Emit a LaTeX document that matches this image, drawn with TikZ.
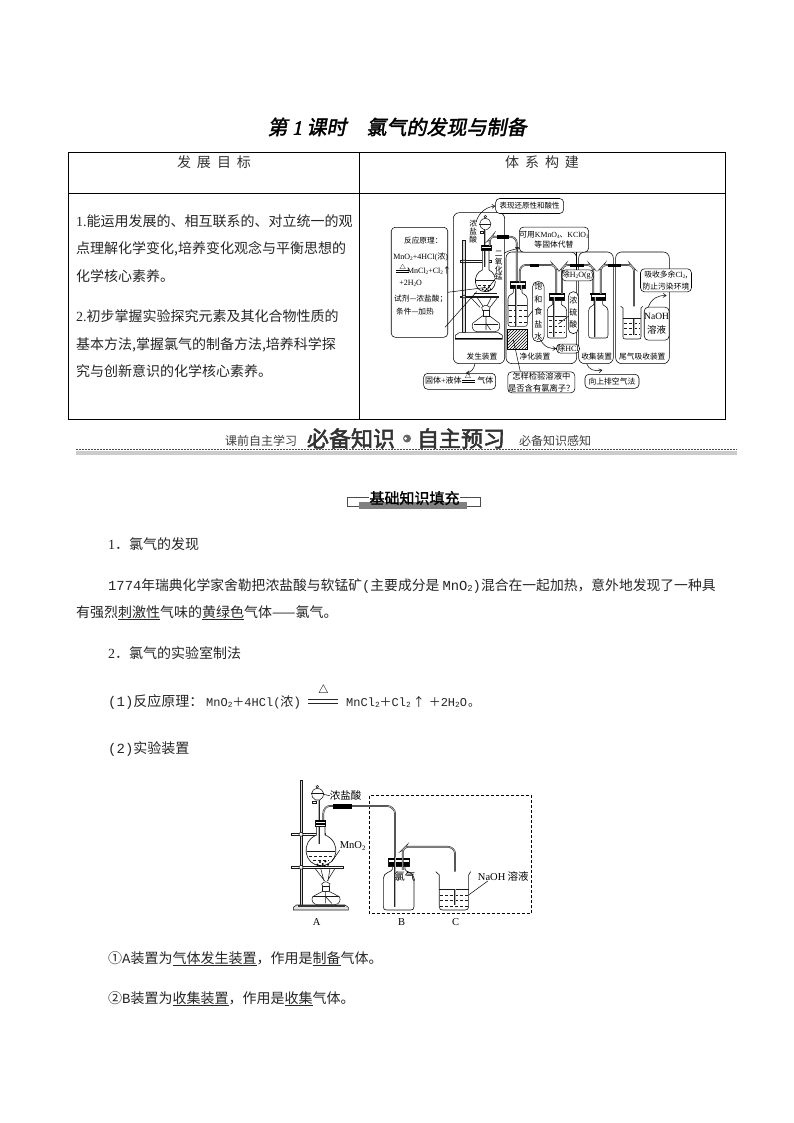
\documentclass[tikz,border=0pt]{standalone}
\usepackage{fontspec}
\setmainfont{Noto Sans CJK SC}
\newfontfamily\latn{Liberation Serif}
\newfontfamily\mono{Liberation Mono}
\newfontfamily\titlefont[FakeSlant=0.2,FakeBold=2]{Noto Sans CJK SC}
\newfontfamily\titlelat[FakeSlant=0.2,FakeBold=2]{Liberation Serif}
\newfontfamily\heavy[FakeBold=2.5]{Noto Sans CJK SC}
\newfontfamily\semibold[FakeBold=1.5]{Noto Sans CJK SC}
\usetikzlibrary{arrows.meta,patterns}
\newcommand\lt[1]{{\latn #1}}
\newcommand\mn[1]{{\mono #1}}
\newcommand\sbs[1]{\raisebox{-.25ex}{\scalebox{.65}{#1}}}
\newcommand\fs[1]{\fontsize{#1}{#1}\selectfont}
\tikzset{
 ink/.style={draw=black!90,line width=.55pt},
 body/.style={anchor=west,inner sep=0pt,text height=.85em,text depth=.15em,text=black!85,font=\fs{14},yshift=-1.5pt},
 small/.style={inner sep=0pt,align=center,text=black,font=\fs{7.7}},
 callout/.style={draw=black,line width=.55pt,rounded corners=4pt,fill=white,inner sep=0pt,align=center,font=\fs{7.8}},
 zone/.style={draw=black,line width=.55pt,rounded corners=6pt},
 pipe/.style={draw=black!85,double=black!30,double distance=.8pt,line width=.45pt,rounded corners=2.5pt},
 lead/.style={draw=black,line width=.5pt},
 barb/.style={draw=black,line width=.5pt,-{Straight Barb[length=3pt,width=4pt]}},
 jar/.pic={
  \draw[ink,fill=white,line width=.6pt] (-13,18) -- (-13,32) .. controls (-13,38) and (-29,38) .. (-29,52) -- (-29,126) .. controls (-29,132) and (-27,134) .. (-22,134) -- (22,134) .. controls (27,134) and (29,132) .. (29,126) -- (29,52) .. controls (29,38) and (13,38) .. (13,32) -- (13,18);
  \draw[ink,fill=white] (-22,0) rectangle (22,20);
  \fill[black] (-24,0) rectangle (24,4);
  \fill[black] (-22,11) rectangle (22,19);
 },
}
\begin{document}
\begin{tikzpicture}[x=1pt,y=-1pt]
\useasboundingbox[fill=white] (0,0) rectangle (794,1123);
% ---- title
\node[inner sep=0pt,font=\fs{20}] (title) at (397,127) {\titlefont 第 \titlelat 1\titlefont\ 课时\quad 氯气的发现与制备};
% ---- table
\draw[draw=black,line width=.7pt] (68,152) rectangle (725,419);
\draw[draw=black,line width=.5pt] (68,193) -- (725,193);
\draw[draw=black,line width=.5pt] (359,152) -- (359,419);
\node[inner sep=0pt,font=\fs{14},text=black!80] (hl) at (214,162) {发\hspace{6pt}展\hspace{6pt}目\hspace{6pt}标};
\node[inner sep=0pt,font=\fs{14},text=black!80] (hr) at (542,162) {体\hspace{6pt}系\hspace{6pt}构\hspace{6pt}建};
\node[body] (t1) at (76,221) {\lt{1.}能运用发展的、相互联系的、对立统一的观};
\node[body] (t2) at (76,249) {点理解化学变化,培养变化观念与平衡思想的};
\node[body] (t3) at (76,276) {化学核心素养。};
\node[body] (t4) at (76,316) {\lt{2.}初步掌握实验探究元素及其化合物性质的};
\node[body] (t5) at (76,344) {基本方法,掌握氯气的制备方法,培养科学探};
\node[body] (t6) at (76,371) {究与创新意识的化学核心素养。};
% ---- concept diagram, in coordinates of a 3x crop
\begin{scope}[shift={(380,190)},x=.3333pt,y=-.3333pt]
 \draw[zone] (220,68) rectangle (374,521);
 \draw[zone] (378,186) rectangle (590,521);
 \draw[zone] (596,186) rectangle (700,521);
 \draw[zone] (707,186) rectangle (868,521);
 % stand
 \draw[ink,fill=black!15] (248,150) rectangle (255,428);
 \draw[ink,fill=white,line width=.6pt] (226,448) -- (226,436) -- (238,428) -- (355,428) -- (367,436) -- (367,448) -- cycle;
 \fill[black] (226,444) rectangle (367,448);
 \draw[ink,fill=white] (240,211) rectangle (335,217);
 \draw[ink,fill=white] (240,318) rectangle (355,323);
 \draw[ink,fill=white] (252,214) circle (5);
 \draw[ink,fill=white] (252,320) circle (5);
 % funnel
 \draw[ink,fill=white] (316,85) .. controls (294,88) and (296,112) .. (310,118) -- (322,118) .. controls (336,112) and (338,88) .. (316,85) -- cycle;
 \draw[ink,fill=white] (316,80) circle (4);
 \draw[ink] (298,103) -- (334,103);
 \draw[ink,fill=white] (300,125) rectangle (310,131);
 % flask
 \draw[ink,fill=white,line width=.65pt] (307,180) -- (307,240) .. controls (276,252) and (280,305) .. (316,305) .. controls (352,305) and (356,252) .. (327,240) -- (327,180);
 \draw[ink] (288,272) -- (344,272);
 \draw[ink,dash pattern=on 3pt off 2pt] (294,286) -- (338,286);
 \draw[pipe] (315,118) -- (315,232);
 \draw[ink,fill=white] (305,166) rectangle (333,182);
 \fill[black] (305,166) rectangle (333,170);
 \fill[black] (305,174) rectangle (333,181);
 \foreach \px/\py in {308/298,314/292,320/297,326/292,332/298,316/302,325/302} {\fill[black] (\px,\py) circle (3.2);}
 % gauze, tripod, lamp
 \draw[ink] (282,310) -- (350,310);
 \draw[ink] (270,320) -- (300,352) (355,320) -- (330,352) (290,320) -- (310,350) (335,320) -- (320,350);
 \draw[ink,fill=white] (305,352) .. controls (316,344) and (318,344) .. (330,352) -- (327,362) -- (308,362) -- cycle;
 \draw[ink,fill=white] (307,378) -- (278,400) .. controls (274,410) and (278,424) .. (290,425) -- (346,425) .. controls (358,424) and (362,410) .. (358,400) -- (329,378) -- cycle;
 \draw[ink] (282,403) -- (354,403);
 \draw[ink,fill=white] (309,362) rectangle (327,378);
 \draw[ink] (318,378) -- (318,420) (318,400) -- (332,420);
 % side tube
 \draw[pipe] (329,168) -- (329,148) -- (336,140) -- (398,140) -- (410,150) -- (410,300);
 \fill[black] (350,135) rectangle (386,146);
 % bottle 1 and hatch
 \draw[draw=black,line width=.5pt,pattern=north east lines,pattern color=black] (382,418) rectangle (443,478);
 \pic at (413,275) {jar};
 \draw[ink] (385,345) -- (441,345);
 \foreach \yy in {360,378,396} {\draw[ink,dash pattern=on 3pt off 2pt] (388,\yy) -- (440,\yy);}
 \draw[pipe] (408,285) -- (408,410);
 \draw[pipe] (424,285) -- (424,300);
 \draw[pipe] (419,278) -- (419,238) -- (429,225) -- (519,225) -- (529,236) -- (529,330);
 \fill[black] (450,221) rectangle (477,232);
 % bottle 2
 \pic at (531,310) {jar};
 \draw[ink] (503,378) -- (559,378);
 \foreach \yy in {392,410,428} {\draw[ink,dash pattern=on 3pt off 2pt] (506,\yy) -- (556,\yy);}
 \draw[pipe] (522,320) -- (522,440);
 \draw[pipe] (546,312) -- (546,236) -- (556,225) -- (630,225) -- (640,236) -- (640,312);
 \fill[black] (571,221) rectangle (611,232);
 % bottle 3
 \pic at (655,310) {jar};
 \draw[pipe] (646,320) -- (646,440);
 \draw[pipe] (662,312) -- (662,236) -- (672,225) -- (752,225) -- (762,236) -- (762,436);
 \fill[black] (685,221) rectangle (722,232);
 % beaker
 \draw[ink,fill=white,line width=.6pt] (722,349) -- (729,354) -- (729,440) .. controls (729,446) and (731,447) .. (736,447) -- (776,447) .. controls (781,447) and (783,446) .. (783,440) -- (783,354) -- (788,349);
 \draw[ink] (729,386) -- (783,386);
 \foreach \yy in {400,416,432} {\draw[ink,dash pattern=on 3pt off 2pt] (732,\yy) -- (780,\yy);}
 \draw[pipe] (762,386) -- (762,436);
 % callouts
 \node[callout,minimum width=56.5pt,minimum height=110pt] (reac) at (118.5,277) {};
 \node[small] (r1) at (130,152) {反应原理：};
 \node[small,font=\fs{8}] (r2) at (122,200) {\lt{MnO\sbs{2}+4HCl(}浓\lt{)}};
 \node[small,font=\fs{7.5}] (r3) at (68,232) {$\triangle$};
 \draw[lead] (48,242) -- (86,242) (48,247) -- (86,247);
 \node[small,font=\fs{8}] (r4) at (147,242) {\lt{MnCl\sbs{2}+Cl\sbs{2}}↑};
 \node[small,font=\fs{8}] (r5) at (92,280) {\lt{+2H\sbs{2}O}};
 \node[small] (r6) at (122,328) {试剂—浓盐酸；};
 \node[small] (r7) at (105,365) {条件—加热};
 \draw[lead] (203,307) -- (312,293);
 \draw[lead] (195,412) -- (290,305);
 \node[callout,minimum width=68pt,minimum height=15pt,font=\fs{7.5}] (redox) at (449,48) {表现还原性和酸性};
 \node[small,fill=white] (hcl) at (280,125) {浓\\[.5pt]盐\\[.5pt]酸};
 \draw[barb] (288,96) .. controls (298,62) and (325,50) .. (redox.west);
 \node[callout,minimum width=65pt,minimum height=25pt] (subst) at (522,149) {可用\lt{KMnO\sbs{4}}、\lt{KClO\sbs{3}}\\[2pt]等固体代替};
 \node[small,fill=white,inner ysep=1pt] (mno) at (356,228) {二\\氧\\化\\锰};
 \draw[lead] (347,265) -- (322,298);
 \draw[barb] (372,190) .. controls (385,180) and (405,180) .. (subst.west |- 0,172);
 \node[callout,minimum width=32pt,minimum height=11pt,font=\fs{8}] (dryh) at (593,256) {除\lt{H\sbs{2}O(g)}};
 \draw[lead] (588,186) -- (588,240);
 \node[callout,rounded corners=5pt,minimum width=11.5pt,minimum height=60pt,font=\fs{8}] (satn) at (475,365) {饱\\[4.5pt]和\\[4.5pt]食\\[4.5pt]盐\\[4.5pt]水};
 \draw[lead] (458,362) -- (443,382);
 \node[callout,rounded corners=5pt,minimum width=10pt,minimum height=42pt,font=\fs{8}] (conc) at (580,368) {浓\\[4pt]硫\\[4pt]酸};
 \draw[lead] (566,378) -- (535,402);
 \node[callout,minimum width=23pt,minimum height=9pt,font=\fs{8}] (rmh) at (564,476) {除\lt{HCl}};
 \draw[barb] (478,445) .. controls (495,475) and (510,475) .. (rmh.west);
 \node[callout,minimum width=51pt,minimum height=23pt] (abs) at (858,271) {吸收多余\lt{Cl\sbs{2}},\\[3pt]防止污染环境};
 \node[callout,minimum width=23pt,minimum height=33pt,font=\fs{9.5}] (naoh) at (830,401) {\lt{NaOH}\\[5pt]溶液};
 \draw[barb] (805,351) .. controls (815,325) and (835,315) .. (860,317);
 \node[small] (l1) at (306,499) {发生装置};
 \node[small] (l2) at (465,499) {净化装置};
 \node[small] (l3) at (650,499) {收集装置};
 \node[small] (l4) at (787,499) {尾气吸收装置};
 \node[callout,minimum width=72pt,minimum height=16pt] (solid) at (239,574) {};
 \node[small,font=\fs{8}] (so1) at (190,572) {固体\lt{+}液体};
 \node[small,font=\fs{8}] (so2) at (316,572) {气体};
 \node[small,font=\fs{7.5}] (tri) at (264,561) {$\triangle$};
 \draw[lead] (so1.east) ++(1,0) -- ++(38,0) ++(-38,5) -- ++(38,0);
 \draw[barb] (285,521) .. controls (282,540) and (270,548) .. (258,549);
 \node[callout,minimum width=67pt,minimum height=21pt,font=\fs{8.3}] (test) at (484,577) {怎样检验溶液中\\[3pt]是否含有氯离子？};
 \draw[lead] (400,450) -- (421,545);
 \node[callout,minimum width=54pt,minimum height=14pt] (updraft) at (696,574) {向上排空气法};
 \draw[barb] (620,521) .. controls (626,540) and (645,545) .. (667,540);
\end{scope}
% ---- banner
\node[inner sep=0pt,font=\fs{12},text=black!75] (b1) at (261,441) {课前自主学习};
\fill[black!20] (76,451) rectangle (737,454.5);
\draw[black!70,line width=.5pt,dash pattern=on 2pt off 1pt] (76,449.5) -- (737,449.5);
\node[inner sep=0pt,font=\fs{22},text=black!80] (b2) at (351,438.5) {\heavy 必备知识};
\fill[black!60] (407,438.5) circle (4);
\fill[white] (405.5,438.5) circle (1.5);
\node[inner sep=0pt,font=\fs{22},text=black!80] (b3) at (461,438.5) {\heavy 自主预习};
\node[inner sep=0pt,font=\fs{12},text=black!75] (b4) at (555,441) {必备知识感知};
% ---- heading
\fill[black!50] (359,502) rectangle (467,509);
\draw[black!70,line width=.5pt] (369,497) -- (347,497) -- (347,506) -- (359,506);
\draw[black!70,line width=.5pt] (460,497) -- (480,497) -- (480,506) -- (467,506);
\node[inner sep=0pt,font=\fs{15}] (head) at (414.5,498) {\semibold 基础知识填充};
% ---- body text
\node[body] (p1) at (108,544) {\lt{1}．氯气的发现};
\node[body,font=\fs{13.8}] (p2) at (108,585) {\mn{1774}年瑞典化学家舍勒把浓盐酸与软锰矿\mn{(}主要成分是 \mn{MnO\sbs{2})}混合在一起加热，意外地发现了一种具};
\node[body] (p3) at (76,612) {有强烈\underline{刺激性}气味的\underline{黄绿色}气体——氯气。};
\node[body] (p4) at (108,653) {\lt{2}．氯气的实验室制法};
\node[body] (p5) at (108,701) {\mn{(1)}反应原理：};
\node[body,font=\fs{12}] (eq1) at (206,701) {\mn{MnO\sbs{2}}＋\mn{4HCl(}\fs{13}浓\mn{)}};
\node[body,font=\fs{12}] (eq2) at (346,701) {\mn{MnCl\sbs{2}}＋\mn{Cl\sbs{2}}\,↑\hspace{4pt}＋\mn{2H\sbs{2}O}\hspace{1pt}。};
\node[inner sep=0pt,font=\fs{12}] (delta) at (323.5,690) {$\triangle$};
\draw[black!85,line width=.6pt] (308,699.5) -- (338,699.5) (308,703) -- (338,703);
\node[body] (p6) at (108,748) {\mn{(2)}实验装置};
\node[body] (p7) at (108,958) {①\mn{A}装置为\underline{气体发生装置}，作用是\underline{制备}气体。};
\node[body] (p8) at (108,998) {②\mn{B}装置为\underline{收集装置}，作用是\underline{收集}气体。};
% ---- apparatus figure, 3x crop coordinates
\begin{scope}[shift={(280,770)},x=.3333pt,y=-.3333pt]
 \draw[black,line width=.6pt,dash pattern=on 3pt off 2pt] (268,77) rectangle (755,430);
 \draw[ink,fill=black!15] (60,30) rectangle (67,405);
 \draw[ink,fill=black!10] (40,420) -- (40,412) -- (50,405) -- (195,405) -- (205,412) -- (205,420) -- cycle;
 \fill[black!80] (55,405) rectangle (195,410);
 \draw[ink,fill=white] (35,190) rectangle (135,196);
 \draw[ink,fill=white] (35,290) rectangle (190,295);
 \draw[ink,fill=white] (63,193) circle (6);
 \draw[ink,fill=white] (63,292) circle (6);
 \draw[ink,fill=white] (112,55) .. controls (90,58) and (90,82) .. (107,90) -- (119,90) .. controls (136,82) and (136,58) .. (112,55) -- cycle;
 \draw[ink,fill=white] (112,50) circle (4);
 \draw[ink] (94,70) -- (132,70);
 \draw[ink,fill=white] (96,93) rectangle (108,101);
 % flask
 \draw[ink,fill=white,line width=.65pt] (110,165) -- (110,195) .. controls (60,215) and (72,287) .. (123,287) .. controls (174,287) and (186,215) .. (135,195) -- (135,165);
 \draw[ink] (80,243) -- (166,243);
 \draw[ink,dash pattern=on 3pt off 2pt] (88,258) -- (158,258);
 \draw[ink,dash pattern=on 3pt off 2pt] (100,272) -- (146,272);
 \draw[pipe] (116,90) -- (116,222);
 \draw[pipe] (130,155) -- (130,122) -- (141,108) -- (330,108) -- (345,122) -- (345,410);
 \fill[black] (158,103) rectangle (215,116);
 \draw[ink,fill=white] (107,150) rectangle (137,168);
 \fill[black] (107,150) rectangle (137,155);
 \fill[black] (107,158) rectangle (137,165);
 \foreach \px/\py in {112/284,120/276,128/282,136/274,144/284,120/288,134/288} {\fill[black] (\px,\py) circle (3.5);}
 % tripod and lamp
 \draw[ink] (105,295) -- (134,333) (165,295) -- (142,333) (122,295) -- (132,333) (150,295) -- (144,333);
 \draw[ink,fill=white] (125,342) .. controls (136,333) and (138,333) .. (150,342) -- (146,350) -- (129,350) -- cycle;
 \draw[ink,fill=white] (128,350) rectangle (147,365);
 \draw[ink,fill=white] (126,365) -- (98,380) .. controls (92,390) and (100,403) .. (110,404) -- (165,404) .. controls (178,403) and (184,390) .. (178,380) -- (149,365) -- cycle;
 \draw[ink] (100,379) -- (176,379);
 \draw[ink] (137,365) -- (137,400) (137,380) -- (155,400);
 % bottle B
 \draw[ink,fill=white,line width=.65pt] (337,283) -- (337,298) .. controls (337,306) and (310,306) .. (310,325) -- (310,410) .. controls (310,418) and (314,420) .. (320,420) -- (392,420) .. controls (398,420) and (402,418) .. (402,410) -- (402,325) .. controls (402,306) and (375,306) .. (375,298) -- (375,283);
 \draw[ink,fill=white] (325,264) rectangle (388,288);
 \fill[black] (323,263) rectangle (390,270);
 \fill[black] (327,277) rectangle (386,287);
 \draw[pipe] (345,260) -- (345,410);
 \draw[pipe] (368,300) -- (368,240) -- (378,230) -- (510,230) -- (525,242) -- (525,406);
 % beaker C
 \draw[ink,fill=white,line width=.65pt] (467,305) -- (478,315) -- (478,410) .. controls (478,418) and (482,420) .. (488,420) -- (555,420) .. controls (561,420) and (566,418) .. (566,410) -- (566,315) -- (572,305);
 \draw[ink] (478,358) -- (566,358);
 \foreach \yy in {375,392,408} {\draw[ink,dash pattern=on 3pt off 2pt] (480,\yy) -- (564,\yy);}
 \draw[pipe] (525,358) -- (525,406);
 % labels
 \node[small,font=\fs{10.5}] (z1) at (197,77) {浓盐酸};
 \draw[lead] (130,73) -- (z1.west);
 \node[small,font=\fs{10.5}] (z2) at (218,228) {\lt{MnO\sbs{2}}};
 \draw[lead] (z2.south west) -- (155,275);
 \node[small,font=\fs{10.5}] (z3) at (375,320) {氯气};
 \node[small,font=\fs{10.5}] (z4) at (670,318) {\lt{NaOH} 溶液};
 \draw[lead] (z4.south west) ++(30,0) -- (566,375);
 \node[small,font=\fs{10.5}] (za) at (110,455) {\lt{A}};
 \node[small,font=\fs{10.5}] (zb) at (365,455) {\lt{B}};
 \node[small,font=\fs{10.5}] (zc) at (527,455) {\lt{C}};
\end{scope}
\end{tikzpicture}
\end{document}
